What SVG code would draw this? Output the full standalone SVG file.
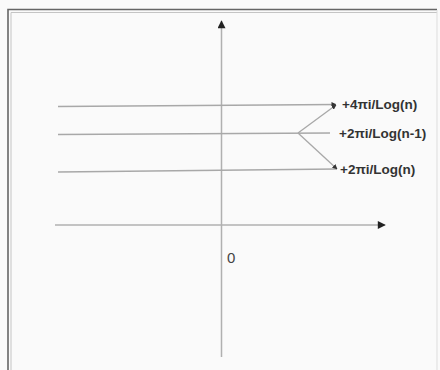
<svg xmlns="http://www.w3.org/2000/svg" width="440" height="370" viewBox="0 0 440 370">
<defs>
<marker id="ah" viewBox="0 0 10 10" refX="9" refY="5" markerWidth="6" markerHeight="6" markerUnits="userSpaceOnUse" orient="auto">
<path d="M0,0 L10,5 L0,10 z" fill="#222"/>
</marker>
<marker id="ahs" viewBox="0 0 10 10" refX="9" refY="5" markerWidth="5" markerHeight="5" markerUnits="userSpaceOnUse" orient="auto">
<path d="M0,0 L10,5 L0,10 z" fill="#333"/>
</marker>
<marker id="axh" viewBox="0 0 10 10" refX="9" refY="5" markerWidth="9" markerHeight="8" markerUnits="userSpaceOnUse" orient="auto">
<path d="M0,0 L10,5 L0,10 z" fill="#222"/>
</marker>
</defs>
<style>
.ln{stroke:#a8a8a8;stroke-width:1.3;fill:none}
.ax{stroke:#b0b0b0;stroke-width:1.5;fill:none}
.lbl{font-family:"Liberation Sans",Arial,sans-serif;font-weight:bold;font-size:13.5px;fill:#333}
.zero{font-family:"Liberation Sans",Arial,sans-serif;font-size:15px;fill:#444}
</style>
<rect width="440" height="370" fill="#fafafa"/>
<g id="frame">
<path d="M8,370 L8,9.5 L437,9.5" stroke="#666" stroke-width="1.6" fill="none"/>
<path d="M11,370 L11,12.5 L437,12.5" stroke="#c4c4c4" stroke-width="1" fill="none"/>
<line x1="437" y1="10" x2="437" y2="370" stroke="#ddd" stroke-width="1"/>
</g>
<g id="connectors">
<line id="y-axis" class="ax" x1="221.5" y1="357" x2="221.5" y2="21" marker-end="url(#axh)"/>
<line id="x-axis" class="ax" x1="55" y1="225" x2="385" y2="225" marker-end="url(#axh)"/>
<line id="line-top" class="ln" x1="58" y1="106.5" x2="336" y2="104.5" marker-end="url(#ahs)"/>
<line id="line-mid" class="ln" x1="58" y1="134.5" x2="330" y2="133"/>
<line id="line-bot" class="ln" x1="58" y1="172" x2="337" y2="169"/>
<line id="fork-up" class="ln" x1="298" y1="133" x2="336" y2="105" marker-end="url(#ahs)"/>
<line id="fork-down" class="ln" x1="298" y1="133" x2="337" y2="169" marker-end="url(#ahs)"/>
</g>
<g id="label-top"><text class="lbl" x="342" y="109">+4πi/Log(n)</text></g>
<g id="label-mid"><text class="lbl" x="339" y="137.5">+2πi/Log(n-1)</text></g>
<g id="label-bot"><text class="lbl" x="340" y="174">+2πi/Log(n)</text></g>
<g id="origin"><text class="zero" x="227" y="263">0</text></g>
</svg>
